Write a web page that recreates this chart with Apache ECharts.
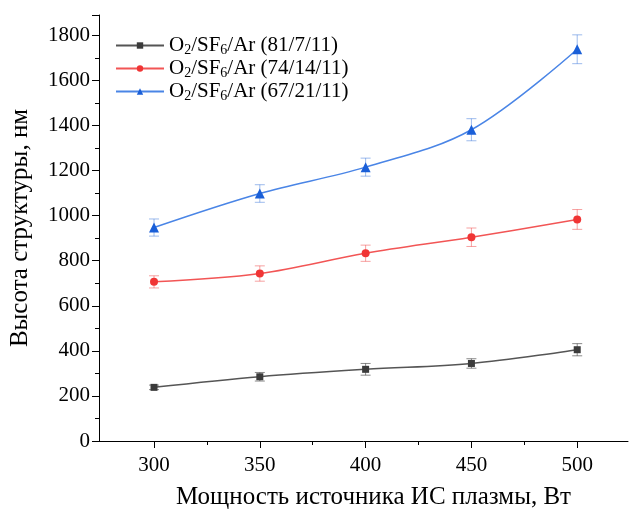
<!DOCTYPE html>
<html><head><meta charset="utf-8">
<script src="https://cdn.jsdelivr.net/npm/echarts@6/dist/echarts.min.js"></script>
<style>html,body{margin:0;padding:0;background:#fff}#c{width:630px;height:513px}</style>
</head><body><div id="c"></div>
<script>
const powers = [300, 350, 400, 450, 500];
const black = [238, 285, 318, 344, 405];
const blackErr = [10, 19, 26, 21, 27];
const red = [706, 743, 833, 904, 983];
const redErr = [27, 34, 36, 41, 44];
const blue = [947, 1098, 1215, 1381, 1738];
const blueErr = [38, 39, 40, 49, 64];
const names = ['O{s|2}/SF{s|6}/Ar (81/7/11)', 'O{s|2}/SF{s|6}/Ar (74/14/11)', 'O{s|2}/SF{s|6}/Ar (67/21/11)'];
const xTicks = [300, 350, 400, 450, 500];
const xMinorTicks = [325, 375, 425, 475];

const FONT = 'Liberation Serif';
const chart = echarts.init(document.getElementById('c'));

function pairs(v) { return powers.map((p, i) => [p, v[i]]); }
function errData(v, e) { return powers.map((p, i) => [p, v[i] - e[i], v[i] + e[i]]); }
function errSeries(v, e, color) {
  return {
    type: 'custom', name: 'err' + color, silent: true, z: 1,
    data: errData(v, e),
    renderItem: function (params, api) {
      const x = api.value(0);
      const p1 = api.coord([x, api.value(1)]);
      const p2 = api.coord([x, api.value(2)]);
      const w = 5;
      const st = { stroke: color, lineWidth: 1 };
      return { type: 'group', children: [
        { type: 'line', shape: { x1: p1[0], y1: p1[1], x2: p2[0], y2: p2[1] }, style: st },
        { type: 'line', shape: { x1: p1[0] - w, y1: p1[1], x2: p1[0] + w, y2: p1[1] }, style: st },
        { type: 'line', shape: { x1: p2[0] - w, y1: p2[1], x2: p2[0] + w, y2: p2[1] }, style: st }
      ]};
    }
  };
}
function lineSeries(name, v, color, mcolor, symbol, size) {
  return {
    type: 'line', name: name, data: pairs(v), smooth: 0.35, z: 3,
    symbol: symbol, symbolSize: size,
    lineStyle: { color: color, width: 1.5 },
    itemStyle: { color: mcolor }
  };
}
const fmt = v => String(v);

const option = {
  animation: false,
  backgroundColor: '#fff',
  textStyle: { fontFamily: FONT },
  grid: { left: 99, right: 2, top: 15, bottom: 72, containLabel: false, outerBoundsMode: 'none' },
  legend: {
    data: names, orient: 'vertical', left: 110, top: 30, itemGap: 1,
    itemWidth: 48, itemHeight: 8,
    textStyle: { fontFamily: FONT, fontSize: 21, color: '#000',
      rich: { s: { fontFamily: FONT, fontSize: 14, color: '#000', padding: [9, 0, 0, 0] } } }
  },
  xAxis: [{
    type: 'value', min: 274, max: 524,
    name: 'Мощность источника ИС плазмы, Вт', nameLocation: 'middle', nameGap: 44,
    nameTextStyle: { fontFamily: FONT, fontSize: 25, color: '#000', padding: [0, 0, 0, 20] },
    axisLine: { show: true, lineStyle: { color: '#000', width: 1 } },
    axisTick: { show: true, length: 7, customValues: xTicks, lineStyle: { color: '#000' } },
    axisLabel: { customValues: xTicks, formatter: fmt, fontFamily: FONT, fontSize: 21, color: '#000', margin: 14 },
    splitLine: { show: false }
  }, {
    type: 'value', min: 274, max: 524, position: 'bottom',
    axisLine: { show: false },
    axisTick: { show: true, length: 4, customValues: xMinorTicks, lineStyle: { color: '#000' } },
    axisLabel: { show: false },
    splitLine: { show: false }
  }],
  yAxis: {
    type: 'value', min: 0, max: 1890, interval: 200,
    name: 'Высота структуры, нм', nameLocation: 'middle', nameGap: 66,
    nameTextStyle: { fontFamily: FONT, fontSize: 25, color: '#000' },
    axisLine: { show: true, lineStyle: { color: '#000', width: 1 } },
    axisTick: { show: true, length: 7, lineStyle: { color: '#000' } },
    minorTick: { show: true, splitNumber: 2, length: 4, lineStyle: { color: '#000' } },
    axisLabel: { formatter: fmt, fontFamily: FONT, fontSize: 21, color: '#000', margin: 9, showMaxLabel: false },
    splitLine: { show: false }, minorSplitLine: { show: false }
  },
  series: [
    errSeries(black, blackErr, 'rgba(60,60,60,0.6)'),
    errSeries(red, redErr, 'rgba(240,70,70,0.5)'),
    errSeries(blue, blueErr, 'rgba(60,120,220,0.5)'),
    lineSeries(names[0], black, '#555', '#3b3b3b', 'rect', 7),
    lineSeries(names[1], red, '#f25555', '#f03535', 'circle', 8),
    lineSeries(names[2], blue, '#4a85e6', '#1a5fd8', 'triangle', 10)
  ]
};
chart.setOption(option);
</script></body></html>
